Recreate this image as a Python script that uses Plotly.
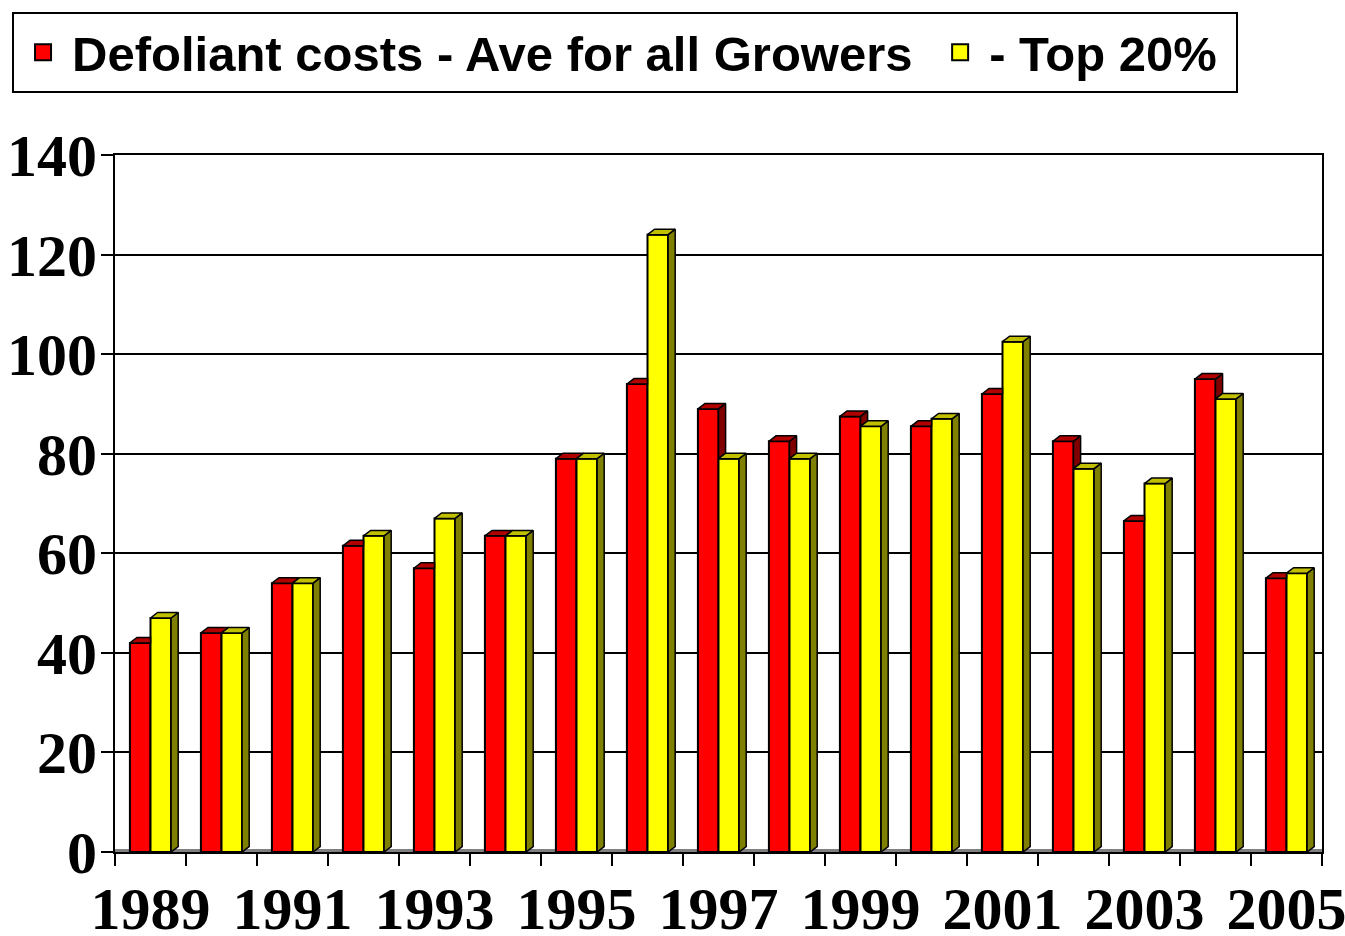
import plotly.graph_objects as go

years = list(range(1989, 2006))
ave_all = [42, 44, 54, 61.5, 57, 63.5, 79, 94, 89, 82.5, 87.5, 85.5, 92, 82.5, 66.5, 95, 55]
top20 = [47, 44, 54, 63.5, 67, 63.5, 79, 124, 79, 79, 85.5, 87, 102.5, 77, 74, 91, 56]
tick_years = [1989, 1991, 1993, 1995, 1997, 1999, 2001, 2003, 2005]

RED, YEL = "#ff0000", "#ffff00"
W = 0.29          # bar width in x units
DX, DY = 0.1, 1.1  # fake 3d depth


def poly_trace(polys, color):
    xs, ys = [], []
    for p in polys:
        for px_, py_ in p:
            xs.append(px_)
            ys.append(py_)
        xs.append(p[0][0]); ys.append(p[0][1])
        xs.append(None); ys.append(None)
    return go.Scatter(x=xs, y=ys, mode="lines", fill="toself", fillcolor=color,
                      line=dict(color="black", width=1.5), showlegend=False,
                      hoverinfo="skip")


red_side, red_top, yel_side, yel_top = [], [], [], []
for yr, vr, vy in zip(years, ave_all, top20):
    xr, xe = yr - W, yr
    if vr > vy:
        red_side.append([(xe, vy), (xe, vr), (xe + DX, vr + DY), (xe + DX, vy + DY)])
    if vy > vr:
        red_top.append([(xr, vr), (xr + DX, vr + DY), (xe, vr + DY), (xe, vr)])
    else:
        red_top.append([(xr, vr), (xr + DX, vr + DY), (xe + DX, vr + DY), (xe, vr)])
    ye = yr + W
    yel_side.append([(ye, 0), (ye + DX, DY), (ye + DX, vy + DY), (ye, vy)])
    yel_top.append([(yr, vy), (yr + DX, vy + DY), (ye + DX, vy + DY), (ye, vy)])

fig = go.Figure()

fig.add_trace(go.Bar(x=years, y=ave_all, width=W, offset=-W, marker_color=RED,
                     marker_line=dict(color="black", width=2), showlegend=False))
fig.add_trace(go.Bar(x=years, y=top20, width=W, offset=0, marker_color=YEL,
                     marker_line=dict(color="black", width=2), showlegend=False))

fig.add_trace(poly_trace(red_side, "#800000"))
fig.add_trace(poly_trace(red_top, "#b00000"))
fig.add_trace(poly_trace(yel_side, "#808000"))
fig.add_trace(poly_trace(yel_top, "#c0c000"))

# legend entries
fig.add_trace(go.Scatter(x=[None], y=[None], mode="markers",
                         name="Defoliant costs - Ave for all Growers\u00a0",
                         marker=dict(symbol="square", size=16, color=RED, line=dict(color="black", width=2))))
fig.add_trace(go.Scatter(x=[None], y=[None], mode="markers", name="- Top 20%\u00a0",
                         marker=dict(symbol="square", size=16, color=YEL, line=dict(color="black", width=2))))

# grey floor strip
fig.add_shape(type="rect", xref="x", yref="y", x0=1988.5, x1=2005.5, y0=0, y1=0.6,
              fillcolor="#808080", line_width=0, layer="below")

fig.update_xaxes(range=[1988.5, 2005.5], tickvals=tick_years, ticks="",
                 automargin=False, ticklabeloverflow="allow", ticklabelstandoff=3,
                 tickfont=dict(family="Liberation Serif", size=60, color="black", weight="bold"),
                 showline=True, linecolor="black", linewidth=2, mirror=True, showgrid=False,
                 minor=dict(tick0=1988.5, dtick=1, ticks="outside", ticklen=12,
                            tickwidth=2, tickcolor="black", showgrid=False))
fig.update_yaxes(range=[0, 140], tickvals=list(range(0, 141, 20)), ticks="outside",
                 ticklen=12, tickwidth=2, tickcolor="black", ticklabelstandoff=-8,
                 automargin=False,
                 tickfont=dict(family="Liberation Serif", size=60, color="black", weight="bold"),
                 showline=True, linecolor="black", linewidth=2, mirror=True,
                 showgrid=True, gridcolor="black", gridwidth=2, zeroline=False)

fig.update_layout(
    width=1345, height=936, autosize=False,
    margin=dict(l=115, r=23, t=155, b=84),
    plot_bgcolor="white", paper_bgcolor="white",
    barmode="overlay",
    legend=dict(orientation="h", x=-0.0853, y=1.2052, xanchor="left", yanchor="top",
                itemwidth=48, bgcolor="white", bordercolor="black", borderwidth=2,
                font=dict(family="Liberation Sans", size=49, color="black", weight="bold")),
)

fig.write_html("out.html", config={"displayModeBar": False, "responsive": False},
               post_script="document.body.style.margin='0';")
